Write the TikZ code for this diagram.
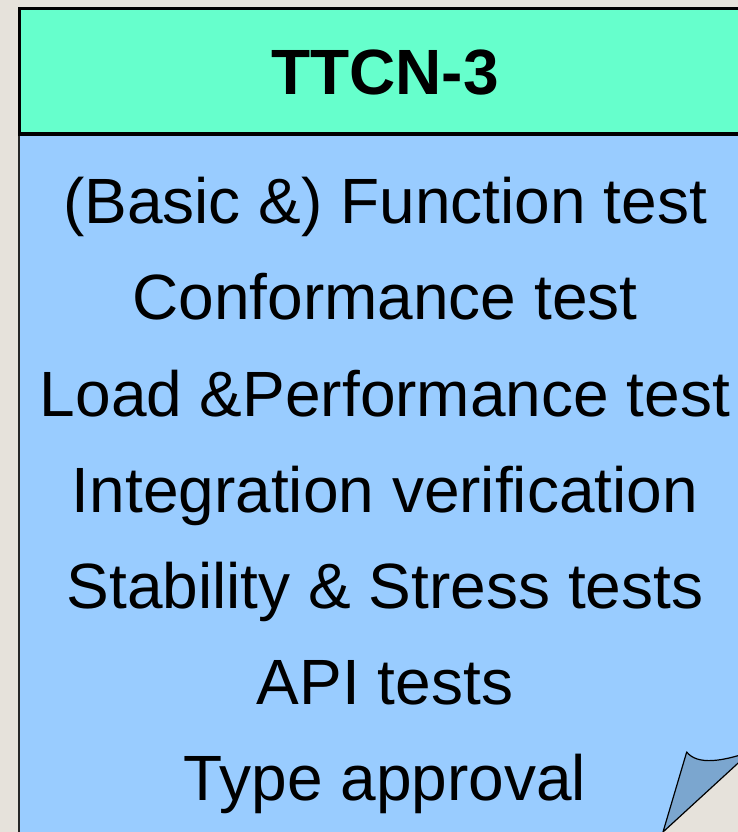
\documentclass[tikz,border=0pt]{standalone}
\usepackage{fontspec}
\setmainfont{Liberation Sans}
\definecolor{pagebg}{HTML}{E6E2DB}
\definecolor{headfill}{HTML}{66FFCC}
\definecolor{bodyfill}{HTML}{99CCFF}
\definecolor{curlfill}{HTML}{7BA6CF}

\begin{document}
\begin{tikzpicture}[
    x=1pt, y=-1pt,
    head/.style={
        font=\fontsize{64}{77}\selectfont\bfseries,
        anchor=base
    },
    item/.style={
        font=\fontsize{64}{77}\selectfont,
        anchor=base
    }
]

% ------------------------------------------------
% Frame
% ------------------------------------------------

\useasboundingbox (0,0) rectangle (738,832);
\clip (0,0) rectangle (738,832);
\fill[pagebg] (0,0) rectangle (738,832);

\filldraw[fill=bodyfill, draw=black!85, line width=2pt]
    (19,134) rectangle (770,870);
\filldraw[fill=headfill, draw=black, line width=3pt]
    (19,8.5) rectangle (770,134);

% ------------------------------------------------
% Texts
% ------------------------------------------------

\node[head] (title) at (385,95) {TTCN-3};

\node[item] (basic)  at (385,223) {(Basic \&) Function test};
\node[item] (conf)   at (385,319) {Conformance test};
\node[item] (load)   at (385,416) {Load \&Performance test};
\node[item] (integ)  at (385,512) {Integration verification};
\node[item] (stab)   at (385,608) {Stability \& Stress tests};
\node[item] (api)    at (385,704) {API tests};
\node[item] (type)   at (385,800) {Type approval};

% ------------------------------------------------
% Page curl
% ------------------------------------------------

\fill[pagebg] (663,832) -- (760,743) -- (760,850) -- cycle;
\filldraw[fill=curlfill, draw=black, line width=1.2pt, line join=round]
    (663,832) -- (686.7,752)
    .. controls (697,765) and (722,763) .. (760,748)
    -- (760,743) -- cycle;

\end{tikzpicture}
\end{document}
